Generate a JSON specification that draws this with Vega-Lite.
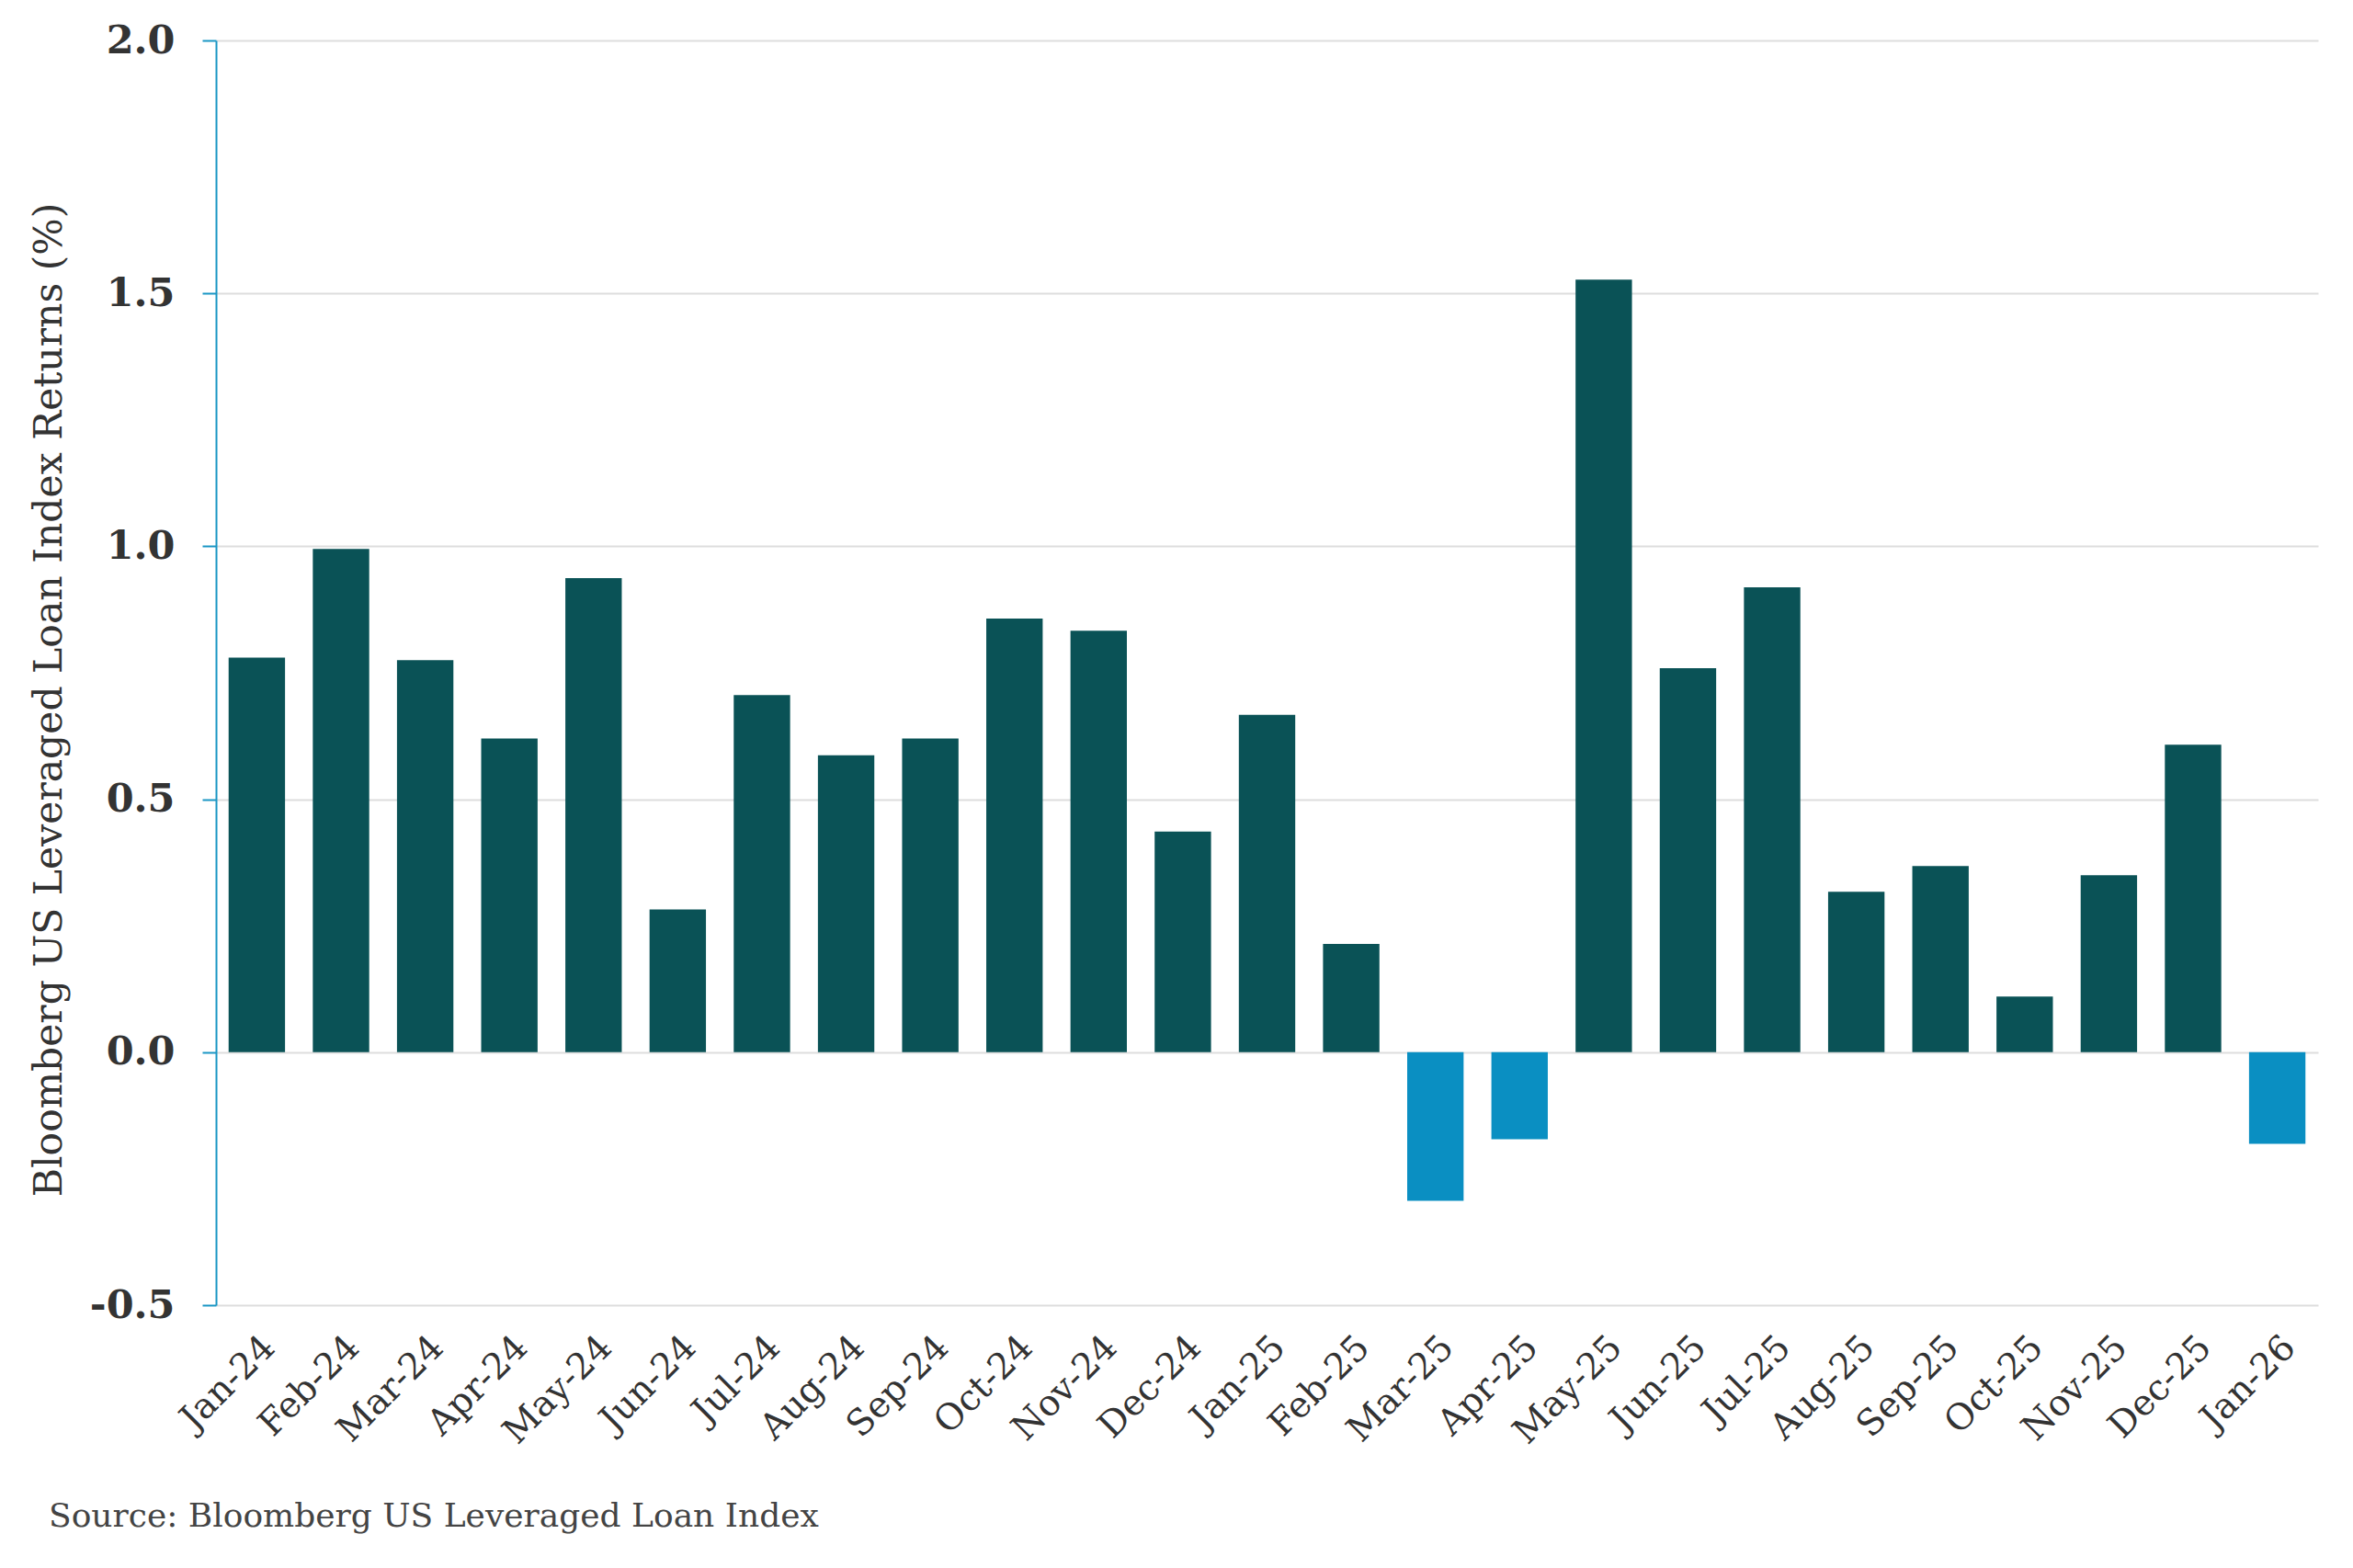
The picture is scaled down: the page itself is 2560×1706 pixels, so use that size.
{
  "$schema": "https://vega.github.io/schema/vega-lite/v6.json",
  "autosize": "none",
  "width": 2287,
  "height": 1376,
  "padding": {"left": 235, "top": 44, "right": 38, "bottom": 286},
  "background": "white",
  "title": {
    "text": "Source: Bloomberg US Leveraged Loan Index",
    "orient": "bottom",
    "anchor": "start",
    "frame": "group",
    "dx": -182,
    "offset": 55,
    "font": "DejaVu Serif",
    "fontSize": 36,
    "fontWeight": "normal",
    "color": "#444444"
  },
  "data": {
    "values": [
      {"month": "Jan-24", "ret": 0.78},
      {"month": "Feb-24", "ret": 0.995},
      {"month": "Mar-24", "ret": 0.775},
      {"month": "Apr-24", "ret": 0.62},
      {"month": "May-24", "ret": 0.937},
      {"month": "Jun-24", "ret": 0.282},
      {"month": "Jul-24", "ret": 0.706},
      {"month": "Aug-24", "ret": 0.587},
      {"month": "Sep-24", "ret": 0.62},
      {"month": "Oct-24", "ret": 0.857},
      {"month": "Nov-24", "ret": 0.833},
      {"month": "Dec-24", "ret": 0.436},
      {"month": "Jan-25", "ret": 0.667},
      {"month": "Feb-25", "ret": 0.214},
      {"month": "Mar-25", "ret": -0.294},
      {"month": "Apr-25", "ret": -0.172},
      {"month": "May-25", "ret": 1.527},
      {"month": "Jun-25", "ret": 0.759},
      {"month": "Jul-25", "ret": 0.919},
      {"month": "Aug-25", "ret": 0.317},
      {"month": "Sep-25", "ret": 0.368},
      {"month": "Oct-25", "ret": 0.11},
      {"month": "Nov-25", "ret": 0.35},
      {"month": "Dec-25", "ret": 0.608},
      {"month": "Jan-26", "ret": -0.181}
    ]
  },
  "mark": {"type": "bar"},
  "encoding": {
    "x": {
      "field": "month",
      "type": "nominal",
      "sort": null,
      "title": null,
      "scale": {"paddingInner": 0.33, "paddingOuter": 0.15},
      "axis": {
        "domain": false,
        "ticks": false,
        "grid": false,
        "labelAngle": -45,
        "labelPadding": 26,
        "labelFont": "DejaVu Serif",
        "labelFontSize": 39,
        "labelColor": "#333333"
      }
    },
    "y": {
      "field": "ret",
      "type": "quantitative",
      "title": "Bloomberg US Leveraged Loan Index Returns (%)",
      "scale": {"domain": [-0.5, 2], "nice": false},
      "axis": {
        "values": [-0.5, 0, 0.5, 1, 1.5, 2],
        "labelExpr": "replace(format(datum.value, '.1f'), '−', '-')",
        "domainColor": "#1a96c4",
        "domainWidth": 2,
        "tickColor": "#1a96c4",
        "tickWidth": 2,
        "tickSize": 15,
        "labelPadding": 30,
        "labelFont": "DejaVu Serif",
        "labelFontSize": 43,
        "labelFontWeight": "bold",
        "labelColor": "#333333",
        "gridColor": "#dddddd",
        "gridWidth": 2,
        "titleFont": "DejaVu Serif",
        "titleFontSize": 42.5,
        "titleFontWeight": "normal",
        "titleColor": "#333333",
        "titlePadding": 22,
        "titleY": 717
      }
    },
    "color": {
      "condition": {"test": "datum.ret < 0", "value": "#0a8fc2"},
      "value": "#0a5256"
    }
  },
  "config": {
    "view": {"stroke": null}
  }
}
